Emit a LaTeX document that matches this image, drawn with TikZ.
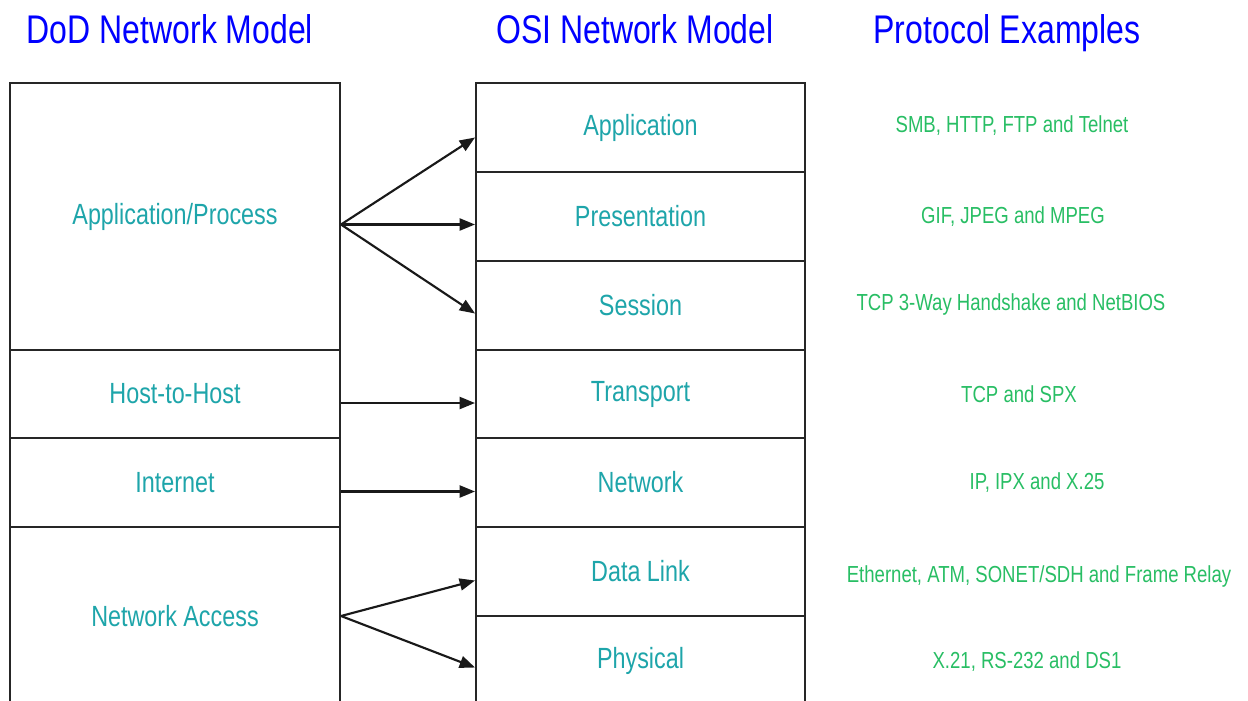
\documentclass[tikz,border=0pt]{standalone}
\usepackage{fontspec}
\setmainfont{Liberation Sans}[FakeStretch=0.8]
\usetikzlibrary{arrows.meta,calc}
\definecolor{headblue}{RGB}{0,0,255}
\definecolor{layerteal}{RGB}{30,165,170}
\definecolor{protogreen}{RGB}{40,190,100}

\begin{document}
\begin{tikzpicture}[x=0.75pt,y=-0.75pt,
  title/.style={text=headblue, font=\fontsize{30}{34}\selectfont, anchor=base, inner sep=0pt},
  layer/.style={draw=black!85, line width=1.5pt, text=layerteal,
    font=\fontsize{21.9}{25}\selectfont, inner sep=0pt, minimum width=330*0.75pt},
  osilayer/.style={layer, minimum width=329*0.75pt, minimum height=89*0.75pt},
  proto/.style={text=protogreen, font=\fontsize{17.4}{20}\selectfont, anchor=base, inner sep=0pt},
  arr/.style={line width=1.6pt, draw=black!90, -{Triangle[length=11.5pt,width=9pt]}}
]
\clip (0,0) rectangle (1248,700);
\fill[white] (0,0) rectangle (1248,700);

% column headings
\node[title] (hdod)   at (170,43)  {DoD Network Model};
\node[title] (hosi)   at (635,43)  {OSI Network Model};
\node[title] (hproto) at (1007,43) {Protocol Examples};

% DoD model layers
\node[layer, minimum height=267*0.75pt] (dodapp)  at (175,216.5) {Application/Process};
\node[layer, minimum height=88*0.75pt]  (dodhost) at (175,394)   {Host-to-Host};
\node[layer, minimum height=89*0.75pt]  (dodinet) at (175,482.5) {Internet};
\node[layer, minimum height=178*0.75pt] (dodna)   at (175,616)   {Network Access};

% OSI model layers
\node[osilayer] (osiapp)   at (640.5,127.5) {Application};
\node[osilayer] (osipres)  at (640.5,216.5) {Presentation};
\node[osilayer] (osises)   at (640.5,305.5) {Session};
\node[osilayer, minimum height=88*0.75pt] (ositrans) at (640.5,394) {Transport};
\node[osilayer] (osinet)   at (640.5,482.5) {Network};
\node[osilayer] (osidl)    at (640.5,571.5) {Data Link};
\node[osilayer] (osiphy)   at (640.5,660.5) {Physical};

% protocol examples
\node[proto] (p1) at (1012,132) {SMB, HTTP, FTP and Telnet};
\node[proto] (p2) at (1013,223) {GIF, JPEG and MPEG};
\node[proto] (p3) at (1011,310) {TCP 3-Way Handshake and NetBIOS};
\node[proto] (p4) at (1019,402) {TCP and SPX};
\node[proto] (p5) at (1037,489) {IP, IPX and X.25};
\node[proto] (p6) at (1039,582) {Ethernet, ATM, SONET/SDH and Frame Relay};
\node[proto] (p7) at (1027,668) {X.21, RS-232 and DS1};

% mappings DoD -> OSI
\draw[arr] ($(dodapp.east)+(0,8)$) -- ($(osiapp.west)+(0,10)$);
\draw[arr] ($(dodapp.east)+(0,8)$) -- ($(osipres.west)+(0,8)$);
\draw[arr] ($(dodapp.east)+(0,8)$) -- ($(osises.west)+(0,8)$);
\draw[arr] ($(dodhost.east)+(0,9)$) -- ($(ositrans.west)+(0,9)$);
\draw[arr] ($(dodinet.east)+(0,9)$) -- ($(osinet.west)+(0,9)$);
\draw[arr] (dodna.east) -- ($(osidl.west)+(0,9)$);
\draw[arr] (dodna.east) -- ($(osiphy.west)+(0,7)$);
\end{tikzpicture}
\end{document}
